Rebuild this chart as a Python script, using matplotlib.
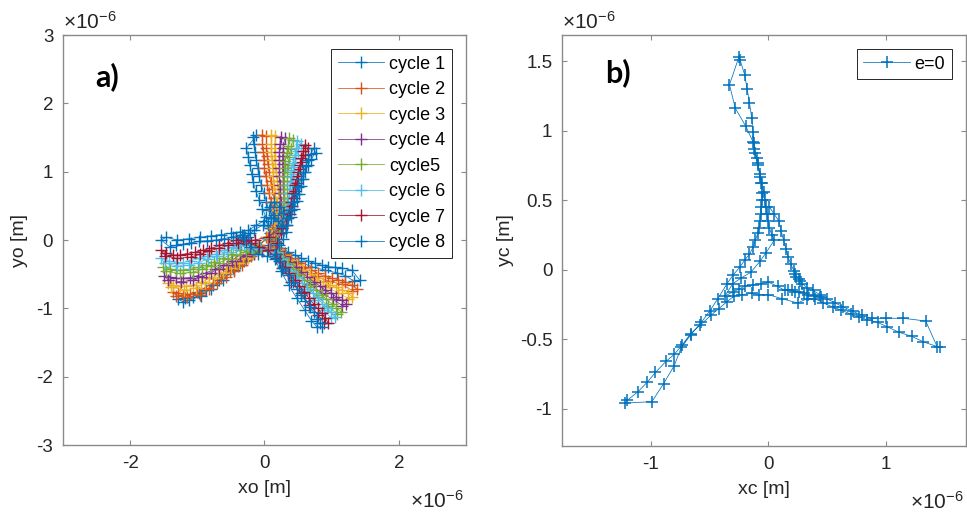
import numpy as np
import matplotlib
matplotlib.use("Agg")
import matplotlib.pyplot as plt
from matplotlib.ticker import FormatStrFormatter

plt.rcParams['font.family'] = ['Liberation Sans', 'DejaVu Sans']
plt.rcParams['axes.unicode_minus'] = False
plt.rcParams['mathtext.fontset'] = 'custom'
plt.rcParams['mathtext.rm'] = 'Liberation Sans'
plt.rcParams['mathtext.it'] = 'Liberation Sans'
plt.rcParams['mathtext.default'] = 'regular'

# orbit positions in units of 1e-6 m, (x, y) pairs in the order they were sampled
cycle_1 = [(0.08, 0.18),
    (0.10, 0.32), (0.06, 0.44), (0.03, 0.56), (-0.01, 0.69), (-0.05, 0.81), (-0.08, 0.93), (-0.10, 1.05),
    (-0.12, 1.17), (-0.14, 1.29), (-0.16, 1.40), (-0.17, 1.51), (-0.12, 1.53),
    (-0.27, 1.34), (-0.24, 1.22), (-0.22, 1.10), (-0.19, 0.97), (-0.17, 0.85), (-0.13, 0.72), (-0.08, 0.59),
    (-0.03, 0.46), (0.02, 0.34), (0.05, 0.22), (0.08, 0.10), (0.10, 0.0),
    (0.15, -0.05), (0.25, -0.11), (0.35, -0.17), (0.45, -0.22), (0.55, -0.27), (0.65, -0.31), (0.75, -0.34),
    (0.85, -0.37), (0.95, -0.39), (1.05, -0.40), (1.15, -0.41), (1.30, -0.44), (1.42, -0.59),
    (1.33, -0.60), (1.20, -0.52), (1.08, -0.48), (0.90, -0.44), (0.70, -0.39), (0.50, -0.31), (0.30, -0.19),
    (0.18, -0.11), (0.05, -0.08), (-0.08, -0.10), (-0.18, -0.18),
    (-0.27, -0.27), (-0.37, -0.34), (-0.47, -0.41), (-0.57, -0.50), (-0.67, -0.59), (-0.77, -0.66),
    (-0.87, -0.73), (-0.97, -0.78), (-1.07, -0.83), (-1.18, -0.85), (-1.29, -0.86),
    (-1.22, -0.90), (-1.12, -0.88), (-0.95, -0.82), (-0.80, -0.71), (-0.62, -0.58), (-0.45, -0.44),
    (-0.30, -0.31), (-0.18, -0.19), (-0.35, -0.06), (-0.42, 0.04), (-0.30, 0.08), (-0.25, 0.05),
    (-0.15, 0.15), (-0.02, 0.22), (0.08, 0.18)]

cycle_2 = [(0.12, 0.18),
    (0.15, 0.32), (0.13, 0.44), (0.10, 0.56), (0.07, 0.69), (0.04, 0.81), (0.02, 0.93), (0.0, 1.05),
    (-0.01, 1.17), (-0.02, 1.29), (-0.03, 1.41), (-0.03, 1.54), (0.03, 1.52),
    (0.03, 1.35), (0.04, 1.23), (0.05, 1.11), (0.07, 0.99), (0.09, 0.87), (0.11, 0.75), (0.14, 0.62),
    (0.17, 0.50), (0.19, 0.38), (0.17, 0.22), (0.13, 0.10), (0.12, 0.0),
    (0.20, -0.12), (0.30, -0.20), (0.40, -0.27), (0.50, -0.33), (0.60, -0.39), (0.70, -0.44), (0.80, -0.49),
    (0.90, -0.53), (1.00, -0.56), (1.10, -0.58), (1.20, -0.61), (1.30, -0.66), (1.37, -0.71),
    (1.31, -0.74), (1.15, -0.65), (0.95, -0.60), (0.75, -0.53), (0.55, -0.41), (0.35, -0.29), (0.22, -0.18),
    (0.08, -0.10), (-0.05, -0.12), (-0.16, -0.19),
    (-0.27, -0.29), (-0.40, -0.38), (-0.52, -0.46), (-0.65, -0.55), (-0.77, -0.63), (-0.89, -0.70),
    (-1.01, -0.76), (-1.11, -0.79), (-1.21, -0.80), (-1.29, -0.78), (-1.36, -0.76),
    (-1.31, -0.82), (-1.16, -0.84), (-0.96, -0.80), (-0.83, -0.72), (-0.70, -0.63), (-0.58, -0.54),
    (-0.46, -0.46), (-0.33, -0.37), (-0.20, -0.24), (-0.08, -0.08), (0.03, 0.04), (0.12, 0.18)]

cycle_3 = [(0.16, 0.18),
    (0.20, 0.32), (0.19, 0.44), (0.18, 0.56), (0.16, 0.69), (0.14, 0.81), (0.13, 0.93), (0.12, 1.05),
    (0.11, 1.17), (0.10, 1.29), (0.10, 1.41), (0.10, 1.54), (0.16, 1.52),
    (0.15, 1.35), (0.15, 1.23), (0.16, 1.11), (0.17, 0.99), (0.19, 0.87), (0.20, 0.75), (0.22, 0.62),
    (0.24, 0.50), (0.25, 0.38), (0.22, 0.22), (0.17, 0.10), (0.14, -0.01),
    (0.20, -0.15), (0.29, -0.22), (0.38, -0.29), (0.48, -0.37), (0.58, -0.44), (0.68, -0.50), (0.78, -0.56),
    (0.87, -0.61), (0.97, -0.66), (1.06, -0.69), (1.15, -0.73), (1.24, -0.78), (1.31, -0.83),
    (1.25, -0.86), (1.10, -0.77), (0.92, -0.69), (0.73, -0.59), (0.53, -0.47), (0.33, -0.31), (0.22, -0.21),
    (0.08, -0.12), (-0.04, -0.15), (-0.15, -0.20),
    (-0.32, -0.27), (-0.44, -0.34), (-0.57, -0.41), (-0.69, -0.49), (-0.82, -0.56), (-0.94, -0.62),
    (-1.07, -0.66), (-1.17, -0.68), (-1.26, -0.68), (-1.36, -0.66), (-1.44, -0.63),
    (-1.39, -0.69), (-1.20, -0.73), (-1.02, -0.70), (-0.88, -0.63), (-0.75, -0.55), (-0.62, -0.48),
    (-0.50, -0.41), (-0.38, -0.34), (-0.24, -0.26), (-0.10, -0.10), (0.04, 0.04), (0.16, 0.18)]

cycle_4 = [(0.20, 0.18),
    (0.25, 0.32), (0.24, 0.44), (0.24, 0.56), (0.23, 0.69), (0.23, 0.81), (0.22, 0.93), (0.22, 1.05),
    (0.22, 1.17), (0.22, 1.29), (0.23, 1.40), (0.24, 1.51), (0.30, 1.49),
    (0.28, 1.35), (0.27, 1.23), (0.27, 1.11), (0.27, 0.99), (0.28, 0.87), (0.28, 0.75), (0.29, 0.62),
    (0.29, 0.50), (0.29, 0.38), (0.25, 0.22), (0.20, 0.10), (0.16, -0.02),
    (0.20, -0.16), (0.29, -0.24), (0.38, -0.32), (0.47, -0.40), (0.55, -0.47), (0.64, -0.54), (0.73, -0.61),
    (0.82, -0.67), (0.90, -0.73), (0.99, -0.78), (1.07, -0.83), (1.15, -0.88), (1.22, -0.94),
    (1.16, -0.96), (1.02, -0.87), (0.86, -0.78), (0.68, -0.64), (0.50, -0.50), (0.33, -0.34), (0.22, -0.22),
    (0.08, -0.13), (-0.04, -0.16), (-0.15, -0.21),
    (-0.37, -0.22), (-0.49, -0.30), (-0.62, -0.37), (-0.74, -0.43), (-0.87, -0.48), (-0.99, -0.52),
    (-1.11, -0.55), (-1.21, -0.56), (-1.31, -0.56), (-1.41, -0.54), (-1.49, -0.52),
    (-1.44, -0.58), (-1.25, -0.61), (-1.06, -0.59), (-0.93, -0.54), (-0.80, -0.48), (-0.68, -0.42),
    (-0.55, -0.36), (-0.42, -0.30), (-0.28, -0.24), (-0.12, -0.11), (0.05, 0.03), (0.20, 0.18)]

cycle_5 = [(0.22, 0.18),
    (0.27, 0.32), (0.28, 0.44), (0.29, 0.56), (0.29, 0.69), (0.29, 0.81), (0.29, 0.93), (0.30, 1.05),
    (0.31, 1.16), (0.33, 1.27), (0.35, 1.38), (0.37, 1.49), (0.42, 1.46),
    (0.39, 1.33), (0.37, 1.21), (0.35, 1.10), (0.34, 0.99), (0.34, 0.87), (0.34, 0.75), (0.34, 0.62),
    (0.33, 0.50), (0.32, 0.38), (0.27, 0.22), (0.22, 0.10), (0.17, -0.03),
    (0.20, -0.17), (0.28, -0.26), (0.35, -0.34), (0.42, -0.42), (0.50, -0.50), (0.59, -0.58), (0.68, -0.66),
    (0.76, -0.73), (0.85, -0.80), (0.92, -0.87), (1.00, -0.93), (1.07, -0.99), (1.14, -1.05),
    (1.08, -1.08), (0.95, -0.97), (0.80, -0.84), (0.63, -0.69), (0.46, -0.53), (0.31, -0.36), (0.21, -0.23),
    (0.07, -0.14), (-0.05, -0.15), (-0.16, -0.18),
    (-0.37, -0.15), (-0.50, -0.21), (-0.62, -0.27), (-0.75, -0.32), (-0.87, -0.37), (-0.99, -0.40),
    (-1.11, -0.43), (-1.21, -0.44), (-1.31, -0.44), (-1.41, -0.42), (-1.51, -0.40),
    (-1.46, -0.46), (-1.26, -0.49), (-1.06, -0.47), (-0.93, -0.43), (-0.80, -0.38), (-0.68, -0.33),
    (-0.55, -0.28), (-0.42, -0.22), (-0.28, -0.17), (-0.12, -0.08), (0.06, 0.03), (0.22, 0.18)]

cycle_6 = [(0.24, 0.18),
    (0.30, 0.32), (0.33, 0.44), (0.35, 0.56), (0.37, 0.69), (0.38, 0.81), (0.39, 0.92), (0.40, 1.02),
    (0.42, 1.13), (0.45, 1.24), (0.47, 1.35), (0.49, 1.45), (0.54, 1.41),
    (0.50, 1.30), (0.46, 1.18), (0.44, 1.07), (0.43, 0.96), (0.42, 0.85), (0.41, 0.74), (0.40, 0.62),
    (0.38, 0.50), (0.36, 0.38), (0.30, 0.22), (0.24, 0.10), (0.18, -0.04),
    (0.19, -0.18), (0.26, -0.28), (0.33, -0.37), (0.40, -0.46), (0.48, -0.54), (0.56, -0.63), (0.64, -0.71),
    (0.72, -0.78), (0.79, -0.85), (0.86, -0.93), (0.93, -1.00), (0.99, -1.06), (1.05, -1.12),
    (0.99, -1.14), (0.88, -1.03), (0.74, -0.88), (0.59, -0.74), (0.43, -0.56), (0.28, -0.39), (0.19, -0.25),
    (0.06, -0.14), (-0.06, -0.13), (-0.18, -0.12),
    (-0.30, -0.04), (-0.38, -0.07), (-0.47, -0.10), (-0.60, -0.15), (-0.72, -0.20), (-0.85, -0.24),
    (-0.97, -0.27), (-1.09, -0.30), (-1.21, -0.33), (-1.32, -0.33), (-1.42, -0.31), (-1.54, -0.27),
    (-1.48, -0.34), (-1.30, -0.38), (-1.12, -0.37), (-0.98, -0.33), (-0.84, -0.28), (-0.70, -0.23),
    (-0.56, -0.18), (-0.42, -0.12), (-0.30, -0.08), (-0.14, -0.04), (0.06, 0.04), (0.24, 0.18)]

cycle_7 = [(0.26, 0.18),
    (0.33, 0.32), (0.37, 0.44), (0.40, 0.56), (0.43, 0.69), (0.45, 0.81), (0.48, 0.90), (0.50, 1.00),
    (0.53, 1.10), (0.55, 1.20), (0.58, 1.30), (0.60, 1.39), (0.65, 1.34),
    (0.60, 1.24), (0.56, 1.14), (0.53, 1.04), (0.50, 0.94), (0.48, 0.83), (0.46, 0.72), (0.44, 0.61),
    (0.41, 0.50), (0.38, 0.38), (0.32, 0.22), (0.25, 0.10), (0.18, -0.05),
    (0.17, -0.20), (0.23, -0.30), (0.30, -0.39), (0.37, -0.49), (0.45, -0.59), (0.52, -0.68), (0.59, -0.76),
    (0.66, -0.85), (0.73, -0.93), (0.79, -1.00), (0.85, -1.07), (0.90, -1.14), (0.95, -1.21),
    (0.89, -1.22), (0.80, -1.10), (0.67, -0.95), (0.54, -0.78), (0.40, -0.61), (0.26, -0.41), (0.17, -0.27),
    (0.05, -0.14), (-0.08, -0.10), (-0.20, -0.05),
    (-0.32, 0.02), (-0.42, 0.0), (-0.54, -0.04), (-0.67, -0.08), (-0.79, -0.12), (-0.92, -0.15),
    (-1.04, -0.18), (-1.16, -0.20), (-1.26, -0.22), (-1.36, -0.22), (-1.46, -0.19), (-1.54, -0.15),
    (-1.48, -0.23), (-1.30, -0.27), (-1.10, -0.25), (-0.96, -0.21), (-0.82, -0.16), (-0.68, -0.12),
    (-0.54, -0.08), (-0.40, -0.04), (-0.28, -0.01), (-0.14, 0.0), (0.06, 0.05), (0.26, 0.18)]

cycle_8 = [(0.26, 0.20), (0.14, 0.36), (0.08, 0.48), (0.14, 0.56), (0.22, 0.48), (0.28, 0.40),
    (0.35, 0.32), (0.39, 0.44), (0.43, 0.56), (0.47, 0.67), (0.50, 0.78), (0.54, 0.89), (0.58, 1.00),
    (0.62, 1.09), (0.65, 1.17), (0.69, 1.26), (0.73, 1.34), (0.76, 1.28),
    (0.70, 1.19), (0.65, 1.10), (0.61, 1.00), (0.57, 0.90), (0.54, 0.79), (0.51, 0.68), (0.48, 0.57),
    (0.44, 0.45), (0.40, 0.34), (0.34, 0.22), (0.32, 0.12), (0.28, 0.02), (0.22, -0.08),
    (0.15, -0.21), (0.21, -0.31), (0.28, -0.41), (0.35, -0.51), (0.43, -0.61), (0.49, -0.71), (0.55, -0.81),
    (0.61, -0.89), (0.68, -0.98), (0.73, -1.06), (0.78, -1.15), (0.82, -1.22), (0.85, -1.28),
    (0.78, -1.27), (0.70, -1.18), (0.60, -1.03), (0.48, -0.85), (0.36, -0.66), (0.24, -0.45), (0.15, -0.28),
    (0.04, -0.24), (-0.10, -0.20), (-0.22, -0.10), (-0.30, 0.02),
    (-0.22, 0.10), (-0.34, 0.08), (-0.47, 0.05), (-0.60, 0.02), (-0.72, 0.0), (-0.85, -0.01),
    (-0.97, -0.02), (-1.09, -0.04), (-1.21, -0.06), (-1.31, -0.08), (-1.41, -0.10), (-1.54, 0.0),
    (-1.46, 0.04), (-1.30, 0.0), (-1.12, 0.02), (-0.96, 0.04), (-0.80, 0.06), (-0.64, 0.08),
    (-0.50, 0.10), (-0.36, 0.12), (-0.24, 0.14), (-0.12, 0.22), (0.0, 0.28), (0.12, 0.32), (0.20, 0.28),
    (0.26, 0.20)]

cycle_labels = ['cycle 1', 'cycle 2', 'cycle 3', 'cycle 4', 'cycle5', 'cycle 6', 'cycle 7', 'cycle 8']
cycle_colors = ['#0072BD', '#D95319', '#EDB120', '#7E2F8E', '#77AC30', '#4DBEEE', '#A2142F', '#0072BD']

# centre of mass path for e = 0, same units
e0_path = [
    (0.01, 0.45), (0.05, 0.40), (0.09, 0.35), (0.11, 0.28), (0.13, 0.21), (0.15, 0.15), (0.17, 0.09),
    (0.19, 0.04), (0.22, -0.01), (0.23, -0.03), (0.24, -0.05), (0.26, -0.07), (0.27, -0.08), (0.29, -0.10),
    (0.33, -0.13), (0.38, -0.15), (0.44, -0.18), (0.50, -0.21), (0.57, -0.24), (0.64, -0.27), (0.72, -0.30),
    (0.80, -0.33), (0.88, -0.35), (1.00, -0.35), (1.15, -0.35), (1.34, -0.37), (1.44, -0.56), (1.46, -0.56),
    (1.32, -0.52), (1.22, -0.48), (1.11, -0.45), (1.01, -0.41), (0.93, -0.38), (0.84, -0.36), (0.77, -0.34),
    (0.70, -0.32), (0.62, -0.29), (0.55, -0.27), (0.47, -0.24), (0.40, -0.21), (0.33, -0.21), (0.25, -0.24),
    (0.12, -0.21), (0.0, -0.18),
    (-0.08, -0.18), (-0.14, -0.17), (-0.22, -0.18), (-0.29, -0.19), (-0.35, -0.23), (-0.42, -0.28),
    (-0.49, -0.33), (-0.58, -0.40), (-0.66, -0.46), (-0.73, -0.54), (-0.80, -0.61), (-0.87, -0.66),
    (-0.96, -0.74), (-1.03, -0.81), (-1.11, -0.88), (-1.20, -0.94), (-1.22, -0.96),
    (-0.99, -0.95), (-0.89, -0.82), (-0.80, -0.69), (-0.74, -0.56), (-0.66, -0.47), (-0.57, -0.38),
    (-0.50, -0.30), (-0.43, -0.21), (-0.35, -0.10), (-0.30, -0.04), (-0.24, 0.02), (-0.20, 0.07),
    (-0.16, 0.11), (-0.13, 0.16), (-0.11, 0.21),
    (-0.09, 0.26), (-0.08, 0.30), (-0.07, 0.35), (-0.06, 0.40), (-0.06, 0.45), (-0.05, 0.50), (-0.05, 0.55),
    (-0.06, 0.62), (-0.07, 0.67), (-0.09, 0.75), (-0.10, 0.80), (-0.12, 0.87), (-0.12, 0.91), (-0.13, 0.99),
    (-0.14, 1.09), (-0.16, 1.20), (-0.18, 1.30), (-0.20, 1.40), (-0.24, 1.51), (-0.25, 1.53),
    (-0.33, 1.33), (-0.28, 1.16), (-0.19, 1.03), (-0.13, 0.92), (-0.11, 0.84), (-0.09, 0.77), (-0.07, 0.69),
    (-0.05, 0.62), (-0.04, 0.56), (-0.03, 0.50), (-0.02, 0.45), (-0.01, 0.40), (0.0, 0.35), (0.01, 0.30),
    (0.03, 0.25), (0.05, 0.21),
    (-0.02, 0.12), (-0.07, 0.06), (-0.15, -0.02), (-0.23, -0.06), (-0.30, -0.10), (-0.37, -0.19),
    (-0.30, -0.16), (-0.25, -0.14), (-0.20, -0.12), (-0.13, -0.11), (-0.06, -0.10), (0.0, -0.09),
    (0.08, -0.12), (0.14, -0.15), (0.17, -0.15), (0.20, -0.15), (0.23, -0.16), (0.26, -0.16), (0.30, -0.17),
    (0.34, -0.18), (0.39, -0.19), (0.45, -0.20)]

TICK_COLOR = '#262626'
FRAME_COLOR = '#8a8a8a'


def style_axes(ax, xticks, yticks, xlim, ylim):
    ax.set_xlim(xlim)
    ax.set_ylim(ylim)
    ax.set_xticks(xticks)
    ax.set_yticks(yticks)
    ax.xaxis.set_major_formatter(FormatStrFormatter('%g'))
    ax.yaxis.set_major_formatter(FormatStrFormatter('%g'))
    ax.tick_params(direction='in', length=3.5, width=0.8, top=True, right=True,
                   labelsize=13.5, colors=FRAME_COLOR, labelcolor=TICK_COLOR, pad=7)
    for spine in ax.spines.values():
        spine.set_color(FRAME_COLOR)
        spine.set_linewidth(1.0)
    # exponent markers the way MATLAB shows them
    ax.text(0.0, 1.006, r'$\times10^{-6}$', transform=ax.transAxes, ha='left', va='bottom',
            fontsize=15, color=TICK_COLOR)
    ax.text(0.995, -0.11, r'$\times10^{-6}$', transform=ax.transAxes, ha='right', va='top',
            fontsize=15, color=TICK_COLOR)


fig = plt.figure(figsize=(9.67, 5.15), dpi=100)

# a) orbit of the ball over eight cycles
ax1 = fig.add_axes([0.0651, 0.1359, 0.4168, 0.7961])
cycles = [cycle_1, cycle_2, cycle_3, cycle_4, cycle_5, cycle_6, cycle_7, cycle_8]
for pts, label, color in zip(cycles, cycle_labels, cycle_colors):
    pts = np.array(pts)
    ax1.plot(pts[:, 0], pts[:, 1], '-+', color=color, lw=0.55, ms=8, mew=1.0, label=label)
style_axes(ax1, [-2, 0, 2], [-3, -2, -1, 0, 1, 2, 3], (-3, 3), (-3, 3))
ax1.set_xlabel('xo [m]', fontsize=14, color=TICK_COLOR, labelpad=6)
ax1.set_ylabel('yo [m]', fontsize=14, color=TICK_COLOR, labelpad=6)
ax1.text(-2.52, 2.39, 'a)', fontsize=22, fontweight='bold', family='Lato', va='center')
leg1 = ax1.legend(loc='upper right', fontsize=13, frameon=True, fancybox=False, framealpha=1,
                  edgecolor=TICK_COLOR, handlelength=2.6, handletextpad=0.25, labelspacing=0.47,
                  borderaxespad=0.8, borderpad=0.35)
leg1.get_frame().set_linewidth(0.7)

# b) centre path for e = 0
ax2 = fig.add_axes([0.5812, 0.1340, 0.4178, 0.7980])
e0 = np.array(e0_path)
ax2.plot(e0[:, 0], e0[:, 1], '-+', color='#0072BD', lw=0.55, ms=8.5, mew=1.1, label='e=0')
style_axes(ax2, [-1, 0, 1], [-1, -0.5, 0, 0.5, 1, 1.5], (-1.755, 1.683), (-1.269, 1.688))
ax2.set_xlabel('xc [m]', fontsize=14, color=TICK_COLOR, labelpad=6)
ax2.set_ylabel('yc [m]', fontsize=14, color=TICK_COLOR, labelpad=4)
ax2.text(-1.39, 1.42, 'b)', fontsize=22, fontweight='bold', family='Lato', va='center')
leg2 = ax2.legend(loc='upper right', fontsize=13, frameon=True, fancybox=False, framealpha=1,
                  edgecolor=TICK_COLOR, handlelength=2.6, handletextpad=0.25,
                  borderaxespad=0.8, borderpad=0.35)
leg2.get_frame().set_linewidth(0.7)

fig.savefig('out.png', dpi=100)
